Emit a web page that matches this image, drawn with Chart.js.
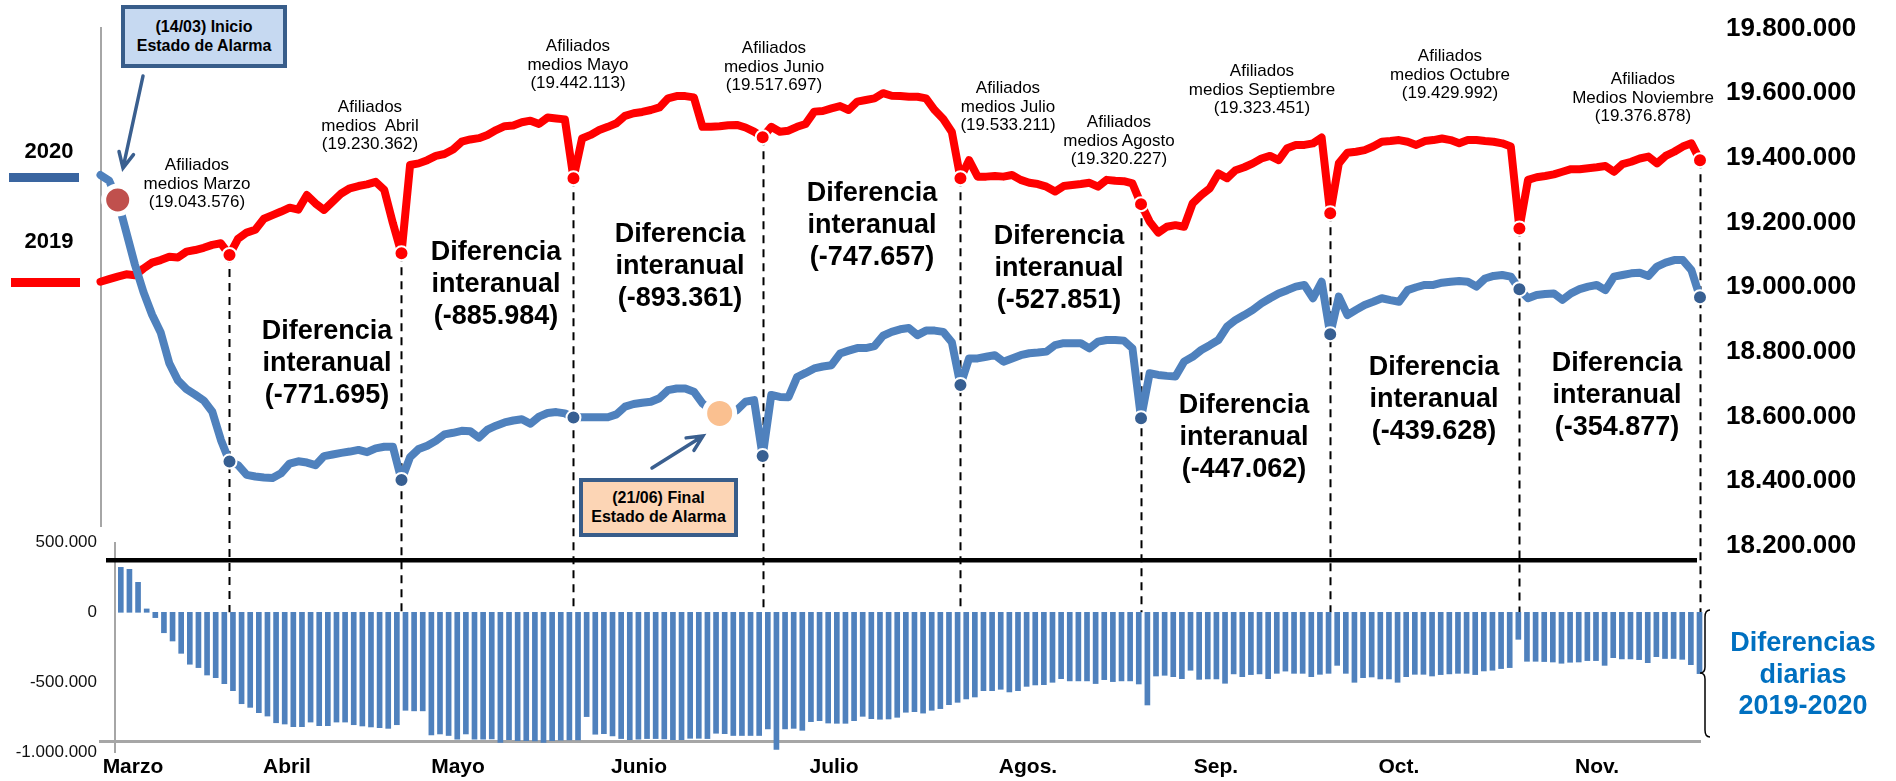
<!DOCTYPE html>
<html>
<head>
<meta charset="utf-8">
<title>Afiliados 2019-2020</title>
<script src="https://cdn.jsdelivr.net/npm/chart.js@4.4.0/dist/chart.umd.min.js"></script>
<style>
  html, body { margin: 0; padding: 0; background: #fff; overflow: hidden; }
  #wrap { position: relative; width: 1896px; height: 781px; font-family: "Liberation Sans", Arial, sans-serif; color: #000; }
  #wrap canvas { position: absolute; left: 0; top: 0; }
  .txt { position: absolute; transform: translateX(-50%); text-align: center; white-space: pre; }
  .afil { font-size: 17px; line-height: 18.5px; }
  .dif { font-size: 27px; font-weight: bold; line-height: 32px; }
  .serie { font-size: 27px; font-weight: bold; line-height: 31.5px; color: #0070C0; }
  .year { font-size: 22px; font-weight: bold; line-height: 26px; }
  .key { position: absolute; height: 9px; }
  .box { position: absolute; box-sizing: border-box; border: 4px solid #385D8A; font-size: 16px; font-weight: bold;
         line-height: 18.5px; text-align: center; display: flex; flex-direction: column; justify-content: center; }
</style>
</head>
<body>
<div id="wrap">
  <canvas id="chart" width="1896" height="781"></canvas>
</div>
<script>
// --- Data (values in millions) ---
const afil2019 = [
  19.017, 19.025, 19.033, 19.040, 19.037, 19.058, 19.076, 19.084, 19.094, 19.092,
  19.110, 19.115, 19.122, 19.131, 19.136, 19.100, 19.150, 19.169, 19.178, 19.212,
  19.223, 19.234, 19.246, 19.240, 19.285, 19.259, 19.239, 19.265, 19.290, 19.306,
  19.313, 19.318, 19.326, 19.301, 19.198, 19.105, 19.378, 19.383, 19.393, 19.406,
  19.412, 19.426, 19.450, 19.457, 19.461, 19.471, 19.486, 19.498, 19.500, 19.510,
  19.515, 19.505, 19.525, 19.522, 19.519, 19.337, 19.460, 19.471, 19.486, 19.496,
  19.507, 19.530, 19.538, 19.542, 19.548, 19.556, 19.584, 19.591, 19.591, 19.587,
  19.496, 19.496, 19.498, 19.501, 19.502, 19.494, 19.481, 19.464, 19.496, 19.481,
  19.484, 19.496, 19.505, 19.543, 19.545, 19.553, 19.560, 19.548, 19.574, 19.579,
  19.584, 19.600, 19.592, 19.591, 19.589, 19.589, 19.584, 19.548, 19.520, 19.480,
  19.337, 19.393, 19.342, 19.342, 19.344, 19.342, 19.347, 19.332, 19.323, 19.319,
  19.311, 19.296, 19.313, 19.316, 19.319, 19.323, 19.311, 19.332, 19.329, 19.328,
  19.321, 19.257, 19.203, 19.169, 19.187, 19.192, 19.187, 19.259, 19.285, 19.306,
  19.352, 19.337, 19.362, 19.371, 19.383, 19.398, 19.406, 19.393, 19.430, 19.440,
  19.440, 19.445, 19.463, 19.229, 19.383, 19.416, 19.419, 19.424, 19.435, 19.450,
  19.452, 19.455, 19.450, 19.440, 19.452, 19.455, 19.460, 19.455, 19.445, 19.455,
  19.455, 19.452, 19.450, 19.445, 19.435, 19.182, 19.332, 19.340, 19.344, 19.349,
  19.357, 19.365, 19.365, 19.368, 19.371, 19.375, 19.357, 19.381, 19.388, 19.398,
  19.404, 19.383, 19.406, 19.419, 19.435, 19.445, 19.393
];
const afil2020 = [
  19.347, 19.330, 19.270, 19.170, 19.070, 18.985, 18.915, 18.860, 18.765, 18.712,
  18.685, 18.668, 18.650, 18.615, 18.528, 18.461,
  18.450, 18.420, 18.415, 18.412, 18.410, 18.425, 18.455, 18.462, 18.458, 18.450,
  18.478, 18.483, 18.488, 18.492, 18.497, 18.490, 18.502, 18.507, 18.507, 18.404,
  18.475, 18.500, 18.510, 18.525, 18.545, 18.550, 18.556, 18.555, 18.535, 18.560,
  18.572, 18.582, 18.588, 18.592, 18.578, 18.600, 18.611, 18.614, 18.610, 18.597,
  18.598, 18.598, 18.598, 18.598, 18.607, 18.631, 18.639, 18.643, 18.646, 18.657,
  18.682, 18.687, 18.687, 18.677, 18.641, 18.620, 18.610, 18.610, 18.620, 18.646, 18.651, 18.478,
  18.667, 18.661, 18.660, 18.722, 18.735, 18.749, 18.755, 18.759, 18.795, 18.804,
  18.812, 18.812, 18.818, 18.850, 18.862, 18.870, 18.874, 18.852, 18.866, 18.866, 18.862, 18.830,
  18.698, 18.780, 18.780, 18.785, 18.790, 18.770, 18.780, 18.790, 18.796, 18.798,
  18.801, 18.821, 18.827, 18.827, 18.827, 18.811, 18.832, 18.837, 18.837, 18.835, 18.811, 18.595,
  18.734, 18.729, 18.726, 18.724, 18.770, 18.785, 18.806, 18.821, 18.837, 18.878,
  18.899, 18.914, 18.930, 18.950, 18.966, 18.981, 18.991, 19.002, 19.007, 18.966, 19.017, 18.855,
  18.971, 18.914, 18.930, 18.945, 18.955, 18.966, 18.960, 18.955, 18.991, 19.000,
  19.007, 19.007, 19.014, 19.017, 19.019, 19.017, 19.002, 19.027, 19.035, 19.038, 19.033, 18.994,
  18.966, 18.976, 18.979, 18.981, 18.961, 18.981, 18.994, 19.002, 19.007, 18.991,
  19.033, 19.038, 19.043, 19.045, 19.035, 19.064, 19.076, 19.084, 19.084, 19.053, 18.969
];
const diffDaily = [
  0.321, 0.307, 0.214, 0.024, -0.038, -0.146, -0.205, -0.293, -0.371, -0.395, -0.448, -0.467, -0.510, -0.560,
  -0.653, -0.679, -0.717, -0.741, -0.789, -0.798, -0.817, -0.817, -0.784, -0.810, -0.810, -0.784, -0.784, -0.803,
  -0.812, -0.819, -0.824, -0.829, -0.803,
  -0.700, -0.704, -0.704, -0.876, -0.869, -0.880, -0.907, -0.869, -0.907, -0.907, -0.905, -0.929, -0.910, -0.917,
  -0.917, -0.919, -0.929, -0.917, -0.914, -0.912, -0.912,
  -0.745, -0.871, -0.867, -0.883, -0.902, -0.910, -0.907, -0.902, -0.902, -0.905, -0.910, -0.910, -0.900, -0.900,
  -0.902, -0.864, -0.867, -0.880, -0.880, -0.880, -0.880, -0.833,
  -0.979, -0.833, -0.829, -0.843, -0.781, -0.774, -0.791, -0.793, -0.793, -0.774, -0.743, -0.760, -0.764, -0.762,
  -0.750, -0.714, -0.710, -0.720, -0.700, -0.688, -0.660, -0.643, -0.619,
  -0.605, -0.560, -0.560, -0.550, -0.569, -0.560, -0.529, -0.519, -0.517, -0.500, -0.474, -0.490, -0.490, -0.490,
  -0.509, -0.481, -0.495, -0.490, -0.490, -0.512, -0.662,
  -0.455, -0.450, -0.460, -0.474, -0.414, -0.479, -0.476, -0.476, -0.507, -0.440, -0.460, -0.445, -0.440, -0.474,
  -0.436, -0.420, -0.436, -0.436, -0.460, -0.443, -0.436, -0.379,
  -0.436, -0.500, -0.467, -0.462, -0.476, -0.476, -0.500, -0.460, -0.443, -0.443, -0.455, -0.445, -0.440, -0.436,
  -0.436, -0.445, -0.419, -0.414, -0.402, -0.395, -0.193,
  -0.350, -0.350, -0.352, -0.355, -0.364, -0.357, -0.355, -0.345, -0.345, -0.379, -0.324, -0.333, -0.333, -0.338,
  -0.360, -0.317, -0.330, -0.330, -0.336, -0.374, -0.438
];
const lineMonthEnd = [15, 35, 55, 77, 100, 121, 143, 165, 186];   // last working day of each month
const alarmStart = 2;    // 14/03
const alarmEnd = 72;     // 21/06
const monthNames = ['Marzo', 'Abril', 'Mayo', 'Junio', 'Julio', 'Agos.', 'Sep.', 'Oct.', 'Nov.'];
const avgNames = ['medios Marzo', 'medios  Abril', 'medios Mayo', 'medios Junio', 'medios Julio',
  'medios Agosto', 'medios Septiembre', 'medios Octubre', 'Medios Noviembre'];
const avgValues = ['19.043.576', '19.230.362', '19.442.113', '19.517.697', '19.533.211',
  '19.320.227', '19.323.451', '19.429.992', '19.376.878'];
const diffValues = ['-771.695', '-885.984', '-893.361', '-747.657', '-527.851', '-447.062', '-439.628', '-354.877'];
const lineTicks = [18.2, 18.4, 18.6, 18.8, 19.0, 19.2, 19.4, 19.6, 19.8];
const barTicks = [0.5, 0, -0.5, -1.0];

const FONT = '"Liberation Sans", Arial, sans-serif';
const fmt = v => String(Math.round(v * 1e6)).replace(/\B(?=(\d{3})+(?!\d))/g, '.');

// --- Text annotations ---
const wrap = document.getElementById('wrap');
function addText(cls, cx, top, text) {
  const d = document.createElement('div');
  d.className = 'txt ' + cls;
  d.style.left = cx + 'px';
  d.style.top = top + 'px';
  d.textContent = text;
  wrap.appendChild(d);
}
const afilPos = [[197, 165], [370, 107], [578, 46], [774, 48], [1008, 88], [1119, 122], [1262, 71], [1450, 56], [1643, 79]];
avgNames.forEach((n, i) => addText('afil', afilPos[i][0], afilPos[i][1] - 9, 'Afiliados\n' + n + '\n(' + avgValues[i] + ')'));
const difPos = [[327, 330], [496, 251], [680, 233], [872, 192], [1059, 235], [1244, 404], [1434, 366], [1617, 362]];
diffValues.forEach((v, i) => addText('dif', difPos[i][0], difPos[i][1] - 16, 'Diferencia\ninteranual\n(' + v + ')'));
addText('serie', 1803, 627, 'Diferencias\ndiarias\n2019-2020');
addText('year', 49, 138, '2020');
addText('year', 49, 228, '2019');

function addKey(left, top, w, color) {
  const d = document.createElement('div');
  d.className = 'key';
  Object.assign(d.style, { left: left + 'px', top: top + 'px', width: w + 'px', background: color });
  wrap.appendChild(d);
}
addKey(9, 173, 70, '#3A65A0');
addKey(11, 278, 69, '#FF0000');

function addBox(left, top, w, h, fill, lines) {
  const d = document.createElement('div');
  d.className = 'box';
  Object.assign(d.style, { left: left + 'px', top: top + 'px', width: w + 'px', height: h + 'px', background: fill });
  lines.forEach(t => { const s = document.createElement('div'); s.textContent = t; d.appendChild(s); });
  wrap.appendChild(d);
}
addBox(121, 5, 166, 63, '#C6D9F1', ['(14/03) Inicio', 'Estado de Alarma']);
addBox(579, 478, 159, 59, '#FCD5B5', ['(21/06) Final', 'Estado de Alarma']);

// --- Decorations drawn on the canvas ---
function arrow(ctx, x1, y1, x2, y2) {
  const a = Math.atan2(y2 - y1, x2 - x1), h = 17;
  ctx.beginPath();
  ctx.moveTo(x1, y1); ctx.lineTo(x2, y2);
  ctx.moveTo(x2 - h * Math.cos(a - 0.45), y2 - h * Math.sin(a - 0.45));
  ctx.lineTo(x2, y2);
  ctx.lineTo(x2 - h * Math.cos(a + 0.45), y2 - h * Math.sin(a + 0.45));
  ctx.stroke();
}

const decor = {
  id: 'decor',
  beforeDatasetsDraw(chart) {
    const { ctx, scales: { xl, yl, yb } } = chart;
    ctx.save();
    ctx.strokeStyle = '#A6A6A6';
    ctx.lineWidth = 2;
    ctx.beginPath(); ctx.moveTo(101, 27); ctx.lineTo(101, 527); ctx.stroke();
    ctx.beginPath(); ctx.moveTo(115, 542); ctx.lineTo(115, 753); ctx.stroke();
    // dashed guides from each month-end point down to the zero line
    const zeroY = yb.getPixelForValue(0);
    ctx.strokeStyle = '#000';
    ctx.lineWidth = 2;
    ctx.setLineDash([8, 6]);
    lineMonthEnd.forEach(j => {
      const x = Math.round(xl.getPixelForValue(j)) + 0.5;
      ctx.beginPath();
      ctx.moveTo(x, yl.getPixelForValue(afil2019[j]));
      ctx.lineTo(x, zeroY);
      ctx.stroke();
    });
    ctx.restore();
  },
  afterDatasetsDraw(chart) {
    const ctx = chart.ctx;
    ctx.save();
    // black separator between both panels
    ctx.fillStyle = '#000';
    ctx.fillRect(106, 558, 1591, 4.5);
    // brace next to the bars
    ctx.strokeStyle = '#000';
    ctx.lineWidth = 1.5;
    ctx.beginPath();
    ctx.moveTo(1710, 610);
    ctx.quadraticCurveTo(1705, 610, 1705, 617);
    ctx.lineTo(1705, 667);
    ctx.quadraticCurveTo(1705, 673, 1700, 673);
    ctx.quadraticCurveTo(1705, 673, 1705, 679);
    ctx.lineTo(1705, 730);
    ctx.quadraticCurveTo(1705, 737, 1710, 737);
    ctx.stroke();
    // arrows pointing at the alarm start / end
    ctx.strokeStyle = '#3A5F8F';
    ctx.lineWidth = 3.5;
    ctx.lineCap = 'round';
    arrow(ctx, 143, 76, 123, 168);
    arrow(ctx, 652, 468, 703, 436);
    ctx.restore();
  }
};

const isEnd = c => lineMonthEnd.includes(c.dataIndex);

const chart = new Chart(document.getElementById('chart'), {
  type: 'line',
  data: {
    datasets: [
      {
        type: 'line', label: '2020', xAxisID: 'xl', yAxisID: 'yl', order: 0, clip: false,
        data: afil2020.map((v, j) => ({ x: j, y: v })),
        borderColor: '#4F81BD', borderWidth: 8, tension: 0,
        borderJoinStyle: 'round', borderCapStyle: 'round',
        pointRadius: c => c.dataIndex === alarmStart ? 14 : c.dataIndex === alarmEnd ? 15 : isEnd(c) ? 7 : 0,
        pointBackgroundColor: c => c.dataIndex === alarmStart ? '#C0504D' : c.dataIndex === alarmEnd ? '#FAC090' : '#375F92',
        pointBorderColor: '#FFFFFF',
        pointBorderWidth: c => (c.dataIndex === alarmStart || c.dataIndex === alarmEnd) ? 5 : 2
      },
      {
        type: 'line', label: '2019', xAxisID: 'xl', yAxisID: 'yl', order: 1, clip: false,
        data: afil2019.map((v, j) => ({ x: j, y: v })),
        borderColor: '#FF0000', borderWidth: 8, tension: 0,
        borderJoinStyle: 'round', borderCapStyle: 'round',
        pointRadius: c => isEnd(c) ? 7 : 0,
        pointBackgroundColor: '#FF0000',
        pointBorderColor: '#FFFFFF',
        pointBorderWidth: 2
      },
      {
        type: 'bar', label: 'Diferencias diarias 2019-2020', xAxisID: 'xb', yAxisID: 'yb', order: 2, clip: false,
        data: diffDaily.map((v, i) => ({ x: i, y: v })),
        backgroundColor: '#4F81BD', barThickness: 5, borderWidth: 0
      }
    ]
  },
  options: {
    responsive: false,
    animation: false,
    events: [],
    layout: { padding: 0 },
    plugins: { legend: { display: false }, tooltip: { enabled: false } },
    scales: {
      xl: { type: 'linear', axis: 'x', display: false, offset: false, min: 0, max: 186 },
      xb: {
        type: 'linear', axis: 'x', offset: false, min: -2.1213, max: 183.35,
        position: { yb: -0.9193 },
        grid: { display: false, drawTicks: false, offset: false },
        border: { display: true, color: '#A6A6A6', width: 3 },
        afterBuildTicks: s => { s.ticks = [1.7, 19.56, 39.38, 60.36, 82.96, 105.45, 127.24, 148.45, 171.41].map(v => ({ value: v })); },
        afterFit: s => { s.paddingLeft = 0; s.paddingRight = 0; },
        ticks: {
          autoSkip: false, maxRotation: 0, padding: 14, color: '#000',
          font: { family: FONT, size: 21, weight: 'bold' },
          callback: (v, i) => monthNames[i]
        }
      },
      yl: {
        type: 'linear', axis: 'y', position: 'right', min: 17.47316, max: 19.88813,
        grid: { display: false, drawTicks: false }, border: { display: false },
        afterBuildTicks: s => { s.ticks = lineTicks.map(v => ({ value: v })); },
        afterFit: s => { s.width = 196; s.paddingTop = 0; s.paddingBottom = 0; },
        ticks: { padding: 26, color: '#000', font: { family: FONT, size: 26, weight: 'bold' }, callback: v => fmt(v) }
      },
      yb: {
        type: 'linear', axis: 'y', position: 'left', min: -1.205, max: 4.37357,
        grid: { display: false, drawTicks: false }, border: { display: false },
        afterBuildTicks: s => { s.ticks = barTicks.map(v => ({ value: v })); },
        afterFit: s => { s.width = 100; s.paddingTop = 0; s.paddingBottom = 0; },
        ticks: { padding: 3, color: '#111', font: { family: FONT, size: 17 }, callback: v => v === 0 ? '0' : fmt(v) }
      }
    }
  },
  plugins: [decor]
});

// pin each scale so that two reference values land on their pixel rows/columns
const pixelTargets = {
  xl: [0, 100.5, 186, 1700],
  xb: [0, 118.3, 183, 1697],
  yl: [19.8, 28.5, 18.2, 546],
  yb: [0, 612.3, -1, 752.3]
};
function calibrate() {
  Object.keys(pixelTargets).forEach(id => {
    const [va, pa, vb, pb] = pixelTargets[id];
    const s = chart.scales[id], o = chart.options.scales[id];
    const k = (pb - pa) / (vb - va);
    const p0 = s.getPixelForValue(s.min), p1 = s.getPixelForValue(s.max);
    o.min = va + (p0 - pa) / k;
    o.max = va + (p1 - pa) / k;
  });
  chart.update();
}
calibrate();
calibrate();
</script>
</body>
</html>
